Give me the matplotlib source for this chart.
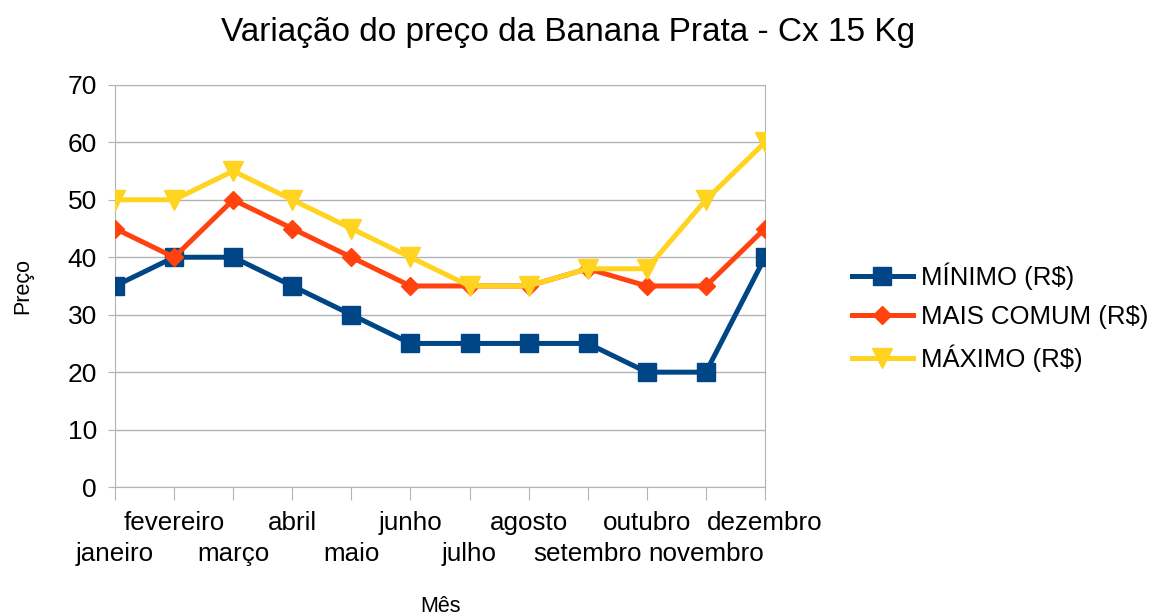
#!/usr/bin/env python3
"""Variação do preço da Banana Prata - Cx 15 Kg."""
import matplotlib
matplotlib.use("Agg")
import matplotlib.pyplot as plt
import numpy as np

plt.rcParams["font.family"] = ["Liberation Sans", "DejaVu Sans"]

MESES = ["janeiro", "fevereiro", "março", "abril", "maio", "junho",
         "julho", "agosto", "setembro", "outubro", "novembro", "dezembro"]
MINIMO = [35, 40, 40, 35, 30, 25, 25, 25, 25, 20, 20, 40]
MAIS_COMUM = [45, 40, 50, 45, 40, 35, 35, 35, 38, 35, 35, 45]
MAXIMO = [50, 50, 55, 50, 45, 40, 35, 35, 38, 38, 50, 60]

fig = plt.figure(figsize=(11.57, 6.15), dpi=100)
ax = fig.add_axes([0.0994, 0.208, 0.5618, 0.654])

x = np.arange(len(MESES))
ax.plot(x, MINIMO, "-s", color="#004586", lw=3.6, ms=13, label="MÍNIMO (R$)", zorder=3)
ax.plot(x, MAIS_COMUM, "-D", color="#ff420e", lw=3.6, ms=9, label="MAIS COMUM (R$)", zorder=4)
ax.plot(x, MAXIMO, "-v", color="#ffd320", lw=3.6, ms=14, label="MÁXIMO (R$)", zorder=5)

ax.set_xlim(0, 11)
ax.set_ylim(0, 70)
ax.set_yticks(range(0, 71, 10))
ax.grid(axis="y", color="#b3b3b3", lw=1)
ax.set_axisbelow(True)
for s in ax.spines.values():
    s.set_color("#b3b3b3")

labels = [("\n" + m) if i % 2 == 0 else m for i, m in enumerate(MESES)]
ax.set_xticks(x)
ax.set_xticklabels(labels, fontsize=18.7, linespacing=1.36)
ax.tick_params(axis="x", length=9, color="#b3b3b3", pad=8)
ax.tick_params(axis="y", length=5, color="#b3b3b3", labelsize=19, pad=8)

ax.set_ylabel("Preço", fontsize=15.5, labelpad=25)
ax.set_xlabel("Mês", fontsize=15.5, labelpad=22)

fig.suptitle("Variação do preço da Banana Prata - Cx 15 Kg", fontsize=24, x=0.491, y=0.972)

ax.legend(loc="center left", bbox_to_anchor=(0.716, 0.484), bbox_transform=fig.transFigure,
          frameon=False, fontsize=18.5, handlelength=2.4, handletextpad=0.3, labelspacing=0.6)

fig.savefig("out.png", dpi=100)
